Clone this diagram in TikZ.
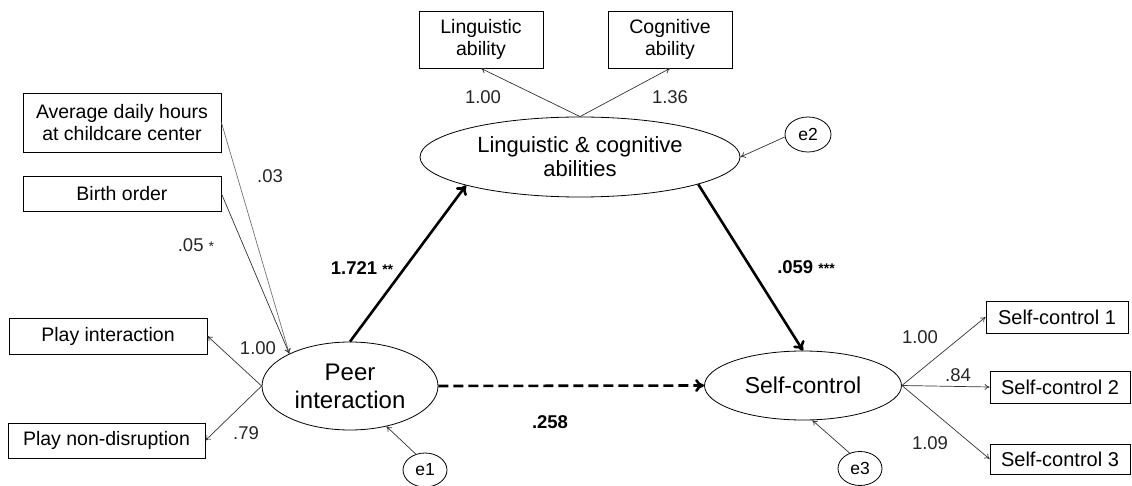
\documentclass[tikz,border=0pt]{standalone}
\usepackage{fontspec}
\setmainfont{Liberation Sans}
\usetikzlibrary{shapes.geometric,arrows.meta}

\tikzset{
  obs/.style={draw, line width=0.8pt, minimum width=198pt, minimum height=35pt,
    inner sep=0pt, align=center, font=\fontsize{19.5}{22}\selectfont},
  lat/.style={draw, line width=0.8pt, ellipse, inner sep=0pt, align=center,
    font=\fontsize{22}{24}\selectfont},
  err/.style={draw, line width=0.8pt, ellipse, inner sep=0pt, minimum width=44pt,
    minimum height=34pt, font=\fontsize{17.5}{20}\selectfont},
  arr/.style={draw=black!80, line width=0.7pt, -{To[length=5pt,width=6pt]}},
  bigarr/.style={line width=2.6pt, -{To[length=9pt,width=13pt]}},
  coef/.style={font=\fontsize{18.5}{20}\selectfont, text=black!85},
  coefb/.style={font=\fontsize{18.5}{20}\selectfont\bfseries},
}
\newcommand{\sig}[1]{{\fontsize{14}{14}\selectfont #1}}

\begin{document}
\begin{tikzpicture}[x=1pt,y=-1pt]
	\useasboundingbox (0,0) rectangle (1132,486);

	% observed variables, left side
	\node[obs, minimum height=59pt] (hours) at (122,122.5) {Average daily hours\\at childcare center};
	\node[obs] (birth) at (122,193.5) {Birth order};
	\node[obs, minimum height=36pt] (playint) at (108,336) {Play interaction};
	\node[obs, minimum width=197pt] (playnd) at (106.5,440.5) {Play non-disruption};

	% observed variables, top
	\node[obs, minimum width=124pt, minimum height=57pt] (ling) at (481,39.5) {Linguistic\\ability};
	\node[obs, minimum width=124pt, minimum height=57pt] (cog) at (670,39.5) {Cognitive\\ability};

	% observed variables, right side
	\node[obs, minimum width=142pt, minimum height=32pt, font=\fontsize{20}{22}\selectfont] (sc1) at (1057,317) {Self-control 1};
	\node[obs, minimum width=140pt, minimum height=32pt, font=\fontsize{20}{22}\selectfont] (sc2) at (1060,387) {Self-control 2};
	\node[obs, minimum width=140pt, minimum height=30pt, font=\fontsize{20}{22}\selectfont] (sc3) at (1060,459) {Self-control 3};

	% latent variables
	\node[lat, minimum width=320pt, minimum height=80pt] (lingcog) at (580,157) {Linguistic \& cognitive\\abilities};
	\node[lat, minimum width=176pt, minimum height=88pt, font=\fontsize{24}{28}\selectfont] (peer) at (350,386) {Peer\\interaction};
	\node[lat, minimum width=197pt, minimum height=69pt, font=\fontsize{23}{25}\selectfont] (selfc) at (803,385.5) {Self-control};

	% disturbances
	\node[err] (e1) at (425,470) {e1};
	\node[err, minimum width=46pt, minimum height=35pt] (e2) at (808,134.5) {e2};
	\node[err] (e3) at (860,468.5) {e3};

	% structural paths
	\draw[bigarr] (peer.north) -- (lingcog.194);
	\draw[bigarr] (lingcog.-13) -- (selfc.north);
	\draw[bigarr, dash pattern=on 10pt off 5pt] (peer.east) -- (selfc.west);

	% loadings
	\draw[arr] (lingcog.north) -- (ling.south);
	\draw[arr] (lingcog.north) -- (cog.south);
	\draw[arr] (peer.west) -- (playint.east);
	\draw[arr] (peer.west) -- (playnd.east);
	\draw[arr] (selfc.east) -- (sc1.west);
	\draw[arr] (selfc.east) -- (sc2.west);
	\draw[arr] (selfc.east) -- (sc3.west);

	% covariates
	\draw[arr, draw=black!55] (hours.east) -- (peer.152);
	\draw[arr] (birth.east) -- (peer.152);

	% disturbance paths
	\draw[arr] (e1.120) -- (peer.-48);
	\draw[arr] (e2.186) -- (lingcog.east);
	\draw[arr] (e3.124) -- (selfc.-75);

	% coefficients
	\node[coef] (cling) at (483,97) {1.00};
	\node[coef] (ccog) at (670,97) {1.36};
	\node[coef] (chours) at (270,176) {.03};
	\node[coef] (cbirth) at (196,245) {.05 \sig{*}};
	\node[coef] (cplayint) at (258,348) {1.00};
	\node[coef] (cplaynd) at (246,433) {.79};
	\node[coef] (csc1) at (920,337) {1.00};
	\node[coef] (csc2) at (958,375) {.84};
	\node[coef] (csc3) at (930,443) {1.09};
	\node[coefb] (cpl) at (362,268) {1.721 \sig{**}};
	\node[coefb] (cls) at (806,267) {.059 \sig{***}};
	\node[coefb] (cps) at (550,422) {.258};

\end{tikzpicture}
\end{document}
